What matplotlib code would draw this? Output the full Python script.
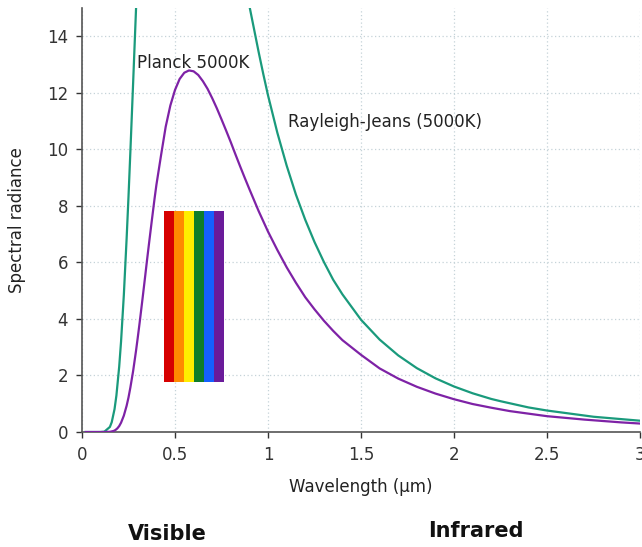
import numpy as np
import matplotlib.pyplot as plt

# Planck curve (purple)
planck_x = [0.02, 0.10, 0.15, 0.17, 0.18, 0.19, 0.20, 0.21, 0.225, 0.24, 0.25, 0.26,
            0.275, 0.29, 0.30, 0.31, 0.325, 0.34, 0.35, 0.36, 0.375, 0.39, 0.40,
            0.425, 0.45, 0.475, 0.50, 0.525, 0.55, 0.575, 0.60, 0.625, 0.65, 0.675,
            0.70, 0.725, 0.75, 0.775, 0.80, 0.825, 0.85, 0.875, 0.90, 0.925, 0.95,
            0.975, 1.00, 1.05, 1.10, 1.15, 1.20, 1.25, 1.30, 1.35, 1.40, 1.50,
            1.60, 1.70, 1.80, 1.90, 2.00, 2.10, 2.20, 2.30, 2.40, 2.50, 2.60,
            2.70, 2.80, 2.90, 3.00]
planck_y = [0.0, 0.0, 0.007, 0.037, 0.072, 0.128, 0.21, 0.33, 0.58, 0.93, 1.22, 1.57,
            2.16, 2.85, 3.35, 3.87, 4.69, 5.53, 6.10, 6.65, 7.46, 8.25, 8.74,
            9.79, 10.80, 11.55, 12.10, 12.49, 12.71, 12.79, 12.76, 12.63, 12.41, 12.14,
            11.81, 11.45, 11.06, 10.66, 10.25, 9.82, 9.40, 8.99, 8.59, 8.20, 7.81,
            7.45, 7.09, 6.44, 5.83, 5.28, 4.77, 4.34, 3.94, 3.58, 3.25, 2.73,
            2.25, 1.89, 1.60, 1.36, 1.16, 0.99, 0.86, 0.74, 0.65, 0.56, 0.50,
            0.44, 0.39, 0.34, 0.30]

# second curve (teal), left and right branches
rj_x = [0.02, 0.08, 0.10, 0.12, 0.15, 0.16, 0.175, 0.185, 0.20, 0.21, 0.225,
        0.24, 0.25, 0.26, 0.275, 0.29, 0.30]
rj_y = [0.0, 0.0, 0.0005, 0.010, 0.18, 0.35, 0.81, 1.29, 2.31, 3.20, 4.85,
        6.85, 8.32, 9.90, 12.36, 14.88, 16.5]
rj_x2 = [0.85, 0.875, 0.90, 0.925, 0.95, 0.975, 1.00, 1.05, 1.10, 1.15, 1.20,
         1.25, 1.30, 1.35, 1.40, 1.50, 1.60, 1.70, 1.80, 1.90, 2.00, 2.10,
         2.20, 2.25, 2.40, 2.50, 2.75, 3.00]
rj_y2 = [16.9, 15.98, 15.07, 14.25, 13.43, 12.65, 11.91, 10.59, 9.43, 8.40, 7.51,
         6.72, 6.02, 5.39, 4.87, 3.97, 3.27, 2.71, 2.26, 1.90, 1.61, 1.37,
         1.17, 1.09, 0.87, 0.76, 0.54, 0.40]

# visible-spectrum stripes
stripe_left = [0.443, 0.496, 0.549, 0.602, 0.655, 0.708]
stripe_colors = ["#d60000", "#ff8a00", "#ffee00", "#0f7d2a", "#1560ff", "#6a1b9a"]
stripe_bottom = 1.77
stripe_top = 7.81

xticks = [0, 0.5, 1, 1.5, 2, 2.5, 3]
xticklabels = ["0", "0.5", "1", "1.5", "2", "2.5", "3"]
yticks = [0, 2, 4, 6, 8, 10, 12, 14]

fig = plt.figure(figsize=(6.42, 5.47), dpi=100)
ax = fig.add_axes([0.1277, 0.2102, 0.8693, 0.7752])

ax.grid(True, linestyle=(0, (1, 2)), color="#c5d3d8", linewidth=0.9)
ax.set_axisbelow(True)

w = stripe_left[1] - stripe_left[0]
ax.bar(stripe_left, stripe_top - stripe_bottom, width=w, bottom=stripe_bottom,
       align="edge", color=stripe_colors, linewidth=0, zorder=2)

teal = "#1a9a7c"
purple = "#7e22a6"
ax.plot(rj_x, rj_y, color=teal, lw=1.6, zorder=3)
ax.plot(rj_x2, rj_y2, color=teal, lw=1.6, zorder=3)
ax.plot(planck_x, planck_y, color=purple, lw=1.6, zorder=4)

ax.set_xlim(0, 3)
ax.set_ylim(0, 15)
ax.set_xticks(xticks)
ax.set_xticklabels(xticklabels)
ax.set_yticks(yticks)

for s in ["top", "right"]:
    ax.spines[s].set_visible(False)
for s in ["left", "bottom"]:
    ax.spines[s].set_color("#555555")
    ax.spines[s].set_linewidth(1.2)
ax.tick_params(colors="#333333", labelsize=12, length=4, width=1, pad=6)

ax.set_xlabel("Wavelength (µm)", fontsize=12, color="#222222", labelpad=10)
ax.set_ylabel("Spectral radiance", fontsize=12, color="#222222", labelpad=15)

ax.text(0.60, 13.07, "Planck 5000K", fontsize=12, ha="center", va="center", color="#222222")
ax.text(1.105, 10.95, "Rayleigh-Jeans (5000K)", fontsize=12, ha="left", va="center", color="#222222")

fig.text(0.260, 0.024, "Visible", fontsize=15, fontweight="bold", ha="center", va="center", color="#111111")
fig.text(0.741, 0.029, "Infrared", fontsize=15, fontweight="bold", ha="center", va="center", color="#111111")

fig.savefig("out.png", dpi=100)
